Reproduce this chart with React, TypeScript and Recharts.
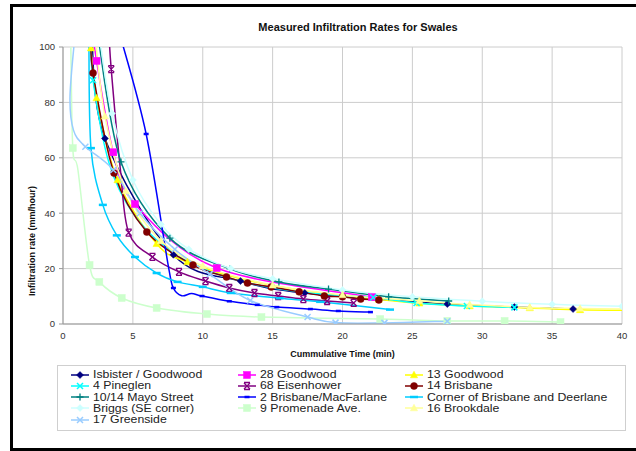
import React from 'react';
import { LineChart, Line, XAxis, YAxis, CartesianGrid, Label } from 'recharts';

const seriesNames = [
  'Isbister / Goodwood',
  '28 Goodwood',
  '13 Goodwood',
  '4 Pineglen',
  '68 Eisenhower',
  '14 Brisbane',
  '10/14 Mayo Street',
  '2 Brisbane/MacFarlane',
  'Corner of Brisbane and Deerlane',
  'Briggs (SE corner)',
  '9 Promenade Ave.',
  '16 Brookdale',
  '17 Greenside',
];

const seriesColors = [
  '#000080', '#FF00FF', '#FFFF00', '#00FFFF', '#800080', '#800000', '#008080',
  '#0000FF', '#00CCFF', '#CCFFFF', '#CCFFCC', '#FFFF99', '#99CCFF',
];

const seriesMarkers = [
  'diamond', 'square', 'triangle', 'x', 'star', 'circle', 'plus',
  'dash', 'longdash', 'diamond', 'square', 'triangle', 'x',
];

// [time (min), rate (mm/hour), optional 0 = no marker drawn]
const isbisterGoodwood = [[2.05, 104, 0], [3.0, 67], [7.9, 25], [12.7, 15.5], [17.3, 11.2], [27.5, 7.2], [32.3, 6.1], [36.5, 5.4]];
const goodwood28 = [[2.2, 104, 0], [2.4, 95], [3.6, 62], [5.15, 43.3], [11.0, 20.2], [22.1, 9.7]];
const goodwood13 = [[1.95, 104, 0], [2.0, 99.6], [2.4, 81.6], [3.9, 52], [6.7, 29], [8.9, 22.4], [13, 16, 0], [17.5, 11.8, 0], [22.6, 8.9], [25.5, 7.5], [29.1, 6.5], [33.4, 5.8], [37, 5.1], [40.5, 4.9, 0]];
const pineglen4 = [[2.0, 104, 0], [2.15, 88], [3.3, 58, 0], [5, 40, 0], [7.5, 27, 0], [10.5, 19, 0], [14, 14, 0], [18, 11, 0], [22.2, 9.6], [25.3, 7.6], [28.9, 6.5], [32.3, 6.0]];
const eisenhower68 = [[3.3, 104, 0], [3.45, 92], [4.1, 56, 0], [4.7, 33], [6.4, 24.2], [8.3, 18.8], [10.2, 15.5], [11.9, 13], [13.7, 11.2], [15.4, 10.1], [17.2, 9.0], [18.9, 8.3], [20.8, 7.6]];
const brisbane14 = [[2.0, 104, 0], [2.15, 90.6], [3.65, 54.5], [6.0, 33.2], [9.3, 21.3], [11.7, 17], [13.2, 14.8], [14.9, 13.4], [16.9, 11.6], [18.7, 10.1], [20.0, 9.8], [21.3, 9.0], [22.6, 8.7]];
const mayoStreet = [[2.5, 104, 0], [4.15, 58.5], [7.65, 31], [11.95, 19.9], [15.45, 15.2], [19, 12.6], [23.3, 9.8], [27.6, 8.3]];
const macFarlane = [[4.1, 104, 0], [5.95, 68.6], [7.5, 22, 0], [7.9, 13], [8.5, 10.2, 0], [9.2, 11, 0], [9.95, 10.1], [11.9, 8.2], [13.9, 6.9], [15.3, 6.1], [17.7, 5.4], [19.7, 4.7], [22, 4.3]];
const deerlane = [[1.85, 104, 0], [2.0, 63.5], [2.85, 43], [3.85, 32], [5.15, 24.2], [6.7, 18.4], [8.2, 15.2], [10, 13.4], [12, 11.2], [15.5, 9.3], [18.4, 8.0], [23.4, 5.2]];
const briggs = [[2.6, 104, 0], [3.5, 76], [5, 52], [7, 36], [9, 27], [12, 20], [15, 16.3], [20, 12.3], [25, 9.8], [30, 8.2], [35, 7.1], [40, 6.4]];
const promenade9 = [[0.55, 104, 0], [0.7, 63.5], [1.07, 55.6, 0], [1.9, 21.3], [2.6, 15.2], [4.2, 9.4], [6.7, 5.8], [10.3, 3.6], [14.2, 2.5], [22.7, 1.8], [27.5, 1.1], [31.6, 1.1], [35.6, 0.7]];
const brookdale16 = [[2.3, 104, 0], [3, 75], [4.5, 48], [7, 30], [10, 21], [15, 14], [20, 10.5], [25.5, 8.4], [29.1, 7], [33.4, 6], [37, 5.6], [40.5, 5.4, 0]];
const greenside17 = [[0.85, 104, 0], [0.5, 82, 0], [0.75, 70, 0], [1.6, 64], [3.6, 55.6], [5.5, 40], [8, 27], [10.5, 18], [13.4, 8.5], [17.5, 2.5], [19.5, 0.5], [23, 0.4], [27.5, 1.0]];

const seriesPoints = [
  isbisterGoodwood, goodwood28, goodwood13, pineglen4, eisenhower68, brisbane14, mayoStreet,
  macFarlane, deerlane, briggs, promenade9, brookdale16, greenside17,
];

const xTicks = [0, 5, 10, 15, 20, 25, 30, 35, 40];
const yTicks = [0, 20, 40, 60, 80, 100];

const chartTitle = 'Measured Infiltration Rates for Swales';
const xTitle = 'Cummulative Time (min)';
const yTitle = 'Infiltration rate (mm/hour)';

const FONT = 'Arial, "Liberation Sans", Helvetica, sans-serif';

const toRows = (pts: number[][]) =>
  pts.map((p) => ({ x: p[0], y: p[1], m: p.length < 3 || p[2] !== 0 }));

function smoothCurve(context: any) {
  let xs: number[] = [];
  let ys: number[] = [];
  return {
    areaStart() {},
    areaEnd() {},
    lineStart() {
      xs = [];
      ys = [];
    },
    point(x: number, y: number) {
      xs.push(+x);
      ys.push(+y);
    },
    lineEnd() {
      const n = xs.length;
      if (!n) return;
      context.moveTo(xs[0], ys[0]);
      for (let i = 0; i < n - 1; i++) {
        const i0 = Math.max(i - 1, 0);
        const i3 = Math.min(i + 2, n - 1);
        const c1x = xs[i] + (xs[i + 1] - xs[i0]) / 6;
        const c1y = ys[i] + (ys[i + 1] - ys[i0]) / 6;
        const c2x = xs[i + 1] - (xs[i3] - xs[i]) / 6;
        const c2y = ys[i + 1] - (ys[i3] - ys[i]) / 6;
        context.bezierCurveTo(c1x, c1y, c2x, c2y, xs[i + 1], ys[i + 1]);
      }
    },
  };
}

function drawMarker(shape: string, cx: number, cy: number, color: string, key: any) {
  switch (shape) {
    case 'diamond':
      return <path key={key} d={`M${cx},${cy - 3.5}L${cx + 3.5},${cy}L${cx},${cy + 3.5}L${cx - 3.5},${cy}Z`} fill={color} stroke={color} strokeWidth={0.5} />;
    case 'square':
      return <rect key={key} x={cx - 3.5} y={cy - 3.5} width={7} height={7} fill={color} stroke={color} strokeWidth={0.5} />;
    case 'triangle':
      return <path key={key} d={`M${cx},${cy - 3.8}L${cx + 3.6},${cy + 2.8}L${cx - 3.6},${cy + 2.8}Z`} fill={color} stroke={color} strokeWidth={0.5} />;
    case 'circle':
      return <circle key={key} cx={cx} cy={cy} r={3.5} fill={color} stroke={color} strokeWidth={0.5} />;
    case 'x':
      return <path key={key} d={`M${cx - 3},${cy - 3}L${cx + 3},${cy + 3}M${cx - 3},${cy + 3}L${cx + 3},${cy - 3}`} stroke={color} strokeWidth={1.5} fill="none" />;
    case 'star':
      return <path key={key} d={`M${cx - 3},${cy - 3}L${cx + 3},${cy + 3}M${cx - 3},${cy + 3}L${cx + 3},${cy - 3}M${cx - 3},${cy - 3.5}L${cx + 3},${cy - 3.5}M${cx - 3},${cy + 3.5}L${cx + 3},${cy + 3.5}`} stroke={color} strokeWidth={1.3} fill="none" />;
    case 'plus':
      return <path key={key} d={`M${cx - 3.5},${cy}L${cx + 3.5},${cy}M${cx},${cy - 3.5}L${cx},${cy + 3.5}`} stroke={color} strokeWidth={1.3} fill="none" />;
    case 'dash':
      return <path key={key} d={`M${cx - 2.5},${cy}L${cx + 2.5},${cy}`} stroke={color} strokeWidth={2.5} fill="none" />;
    case 'longdash':
      return <path key={key} d={`M${cx - 4},${cy}L${cx + 4},${cy}`} stroke={color} strokeWidth={2.5} fill="none" />;
    default:
      return <g key={key} />;
  }
}

function LegendBox() {
  return (
    <div
      style={{
        position: 'absolute',
        left: 57,
        top: 365,
        width: 569,
        height: 66,
        border: '1px solid #cfcfcf',
        boxSizing: 'border-box',
        background: '#fff',
        fontFamily: FONT,
        fontSize: 10.5,
        color: '#222',
      }}
    >
      {seriesNames.map((name, i) => {
        const col = i % 3;
        const row = Math.floor(i / 3);
        return (
          <div
            key={name}
            style={{
              position: 'absolute',
              left: 12 + col * 167,
              top: 3 + row * 11.3,
              height: 11,
              lineHeight: '11px',
              whiteSpace: 'nowrap',
              display: 'flex',
              alignItems: 'center',
            }}
          >
            <svg width={20} height={10} style={{ marginRight: 3 }}>
              <line x1={1} y1={5} x2={19} y2={5} stroke={seriesColors[i]} strokeWidth={1.5} />
              {drawMarker(seriesMarkers[i], 10, 5, seriesColors[i], 'm')}
            </svg>
            <span style={{ display: 'inline-block', transform: 'scaleX(1.17)', transformOrigin: 'left center' }}>{name}</span>
          </div>
        );
      })}
    </div>
  );
}

export default function App() {
  return (
    <div style={{ position: 'absolute', left: 0, top: 0, width: 636, height: 451, background: '#fff', overflow: 'hidden', fontFamily: FONT }}>
      <div style={{ position: 'absolute', left: 10, top: 4, width: 626, height: 3, background: '#000' }} />
      <div style={{ position: 'absolute', left: 10, top: 4, width: 3, height: 447, background: '#000' }} />
      <div style={{ position: 'absolute', left: 10, top: 448, width: 626, height: 3, background: '#000' }} />
      <div
        style={{
          position: 'absolute',
          left: 158,
          top: 21,
          width: 400,
          textAlign: 'center',
          fontFamily: FONT,
          fontWeight: 'bold',
          fontSize: 11,
          color: '#111',
        }}
      >
        {chartTitle}
      </div>
      <div style={{ position: 'absolute', left: 0, top: 0 }}>
        <LineChart width={636} height={451} margin={{ top: 47, right: 14, bottom: 97, left: 23 }}>
          <CartesianGrid stroke="#cccccc" strokeWidth={1} horizontalValues={yTicks} verticalValues={xTicks} />
          <XAxis
            type="number"
            dataKey="x"
            domain={[0, 40]}
            ticks={xTicks}
            allowDataOverflow
            height={30}
            axisLine={{ stroke: '#999' }}
            tickLine={false}
            tickSize={4}
            tickMargin={4}
            tick={{ fontSize: 9.5, fill: '#333', fontFamily: FONT }}
          >
            <Label
              value={xTitle}
              content={(props: any) => {
                const vb = props.viewBox || {};
                return (
                  <text x={vb.x + vb.width / 2} y={vb.y + 33} textAnchor="middle" fontFamily={FONT} fontWeight="bold" fontSize={9} fill="#111">
                    {xTitle}
                  </text>
                );
              }}
            />
          </XAxis>
          <YAxis
            type="number"
            dataKey="y"
            domain={[0, 100]}
            ticks={yTicks}
            allowDataOverflow
            width={40}
            axisLine={{ stroke: '#999' }}
            tickLine={{ stroke: '#999' }}
            tickSize={4}
            tickMargin={4}
            tick={{ fontSize: 9.5, fill: '#333', fontFamily: FONT }}
          >
            <Label
              value={yTitle}
              content={(props: any) => {
                const vb = props.viewBox || {};
                const x = vb.x + 10;
                const y = vb.y + vb.height * 0.7;
                return (
                  <text x={x} y={y} transform={`rotate(-90 ${x} ${y})`} textAnchor="middle" dominantBaseline="middle" fontFamily={FONT} fontWeight="bold" fontSize={9} fill="#111">
                    {yTitle}
                  </text>
                );
              }}
            />
          </YAxis>
          {seriesPoints.map((pts, i) => (
            <Line
              key={seriesNames[i]}
              name={seriesNames[i]}
              data={toRows(pts)}
              dataKey="y"
              type={smoothCurve as any}
              stroke={seriesColors[i]}
              strokeWidth={1.5}
              isAnimationActive={false}
              activeDot={false}
              dot={(props: any) => {
                const { cx, cy, payload, index } = props;
                if (!payload || !payload.m || cx == null || cy == null) return <g key={`d-${i}-${index}`} />;
                return drawMarker(seriesMarkers[i], cx, cy, seriesColors[i], `d-${i}-${index}`);
              }}
            />
          ))}
        </LineChart>
      </div>
      <LegendBox />
    </div>
  );
}
